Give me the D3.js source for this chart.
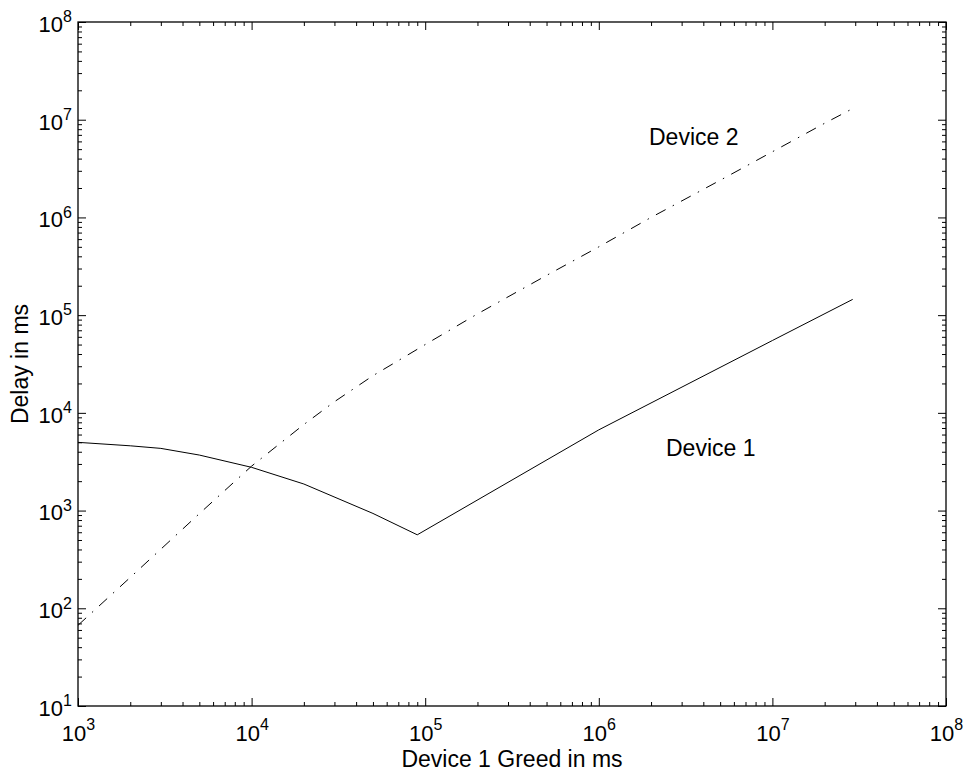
<!DOCTYPE html>
<html><head><meta charset="utf-8">
<script src="https://cdn.jsdelivr.net/npm/d3@7"></script>
<style>body{margin:0;background:#fff}text{font-family:"Liberation Sans",Arial,Helvetica,sans-serif;fill:#000}</style>
</head><body><svg id="c" width="964" height="776"></svg>
<script>
// Data
const device1X = [1e3, 2e3, 3e3, 5e3, 1e4, 2e4, 5e4, 9e4, 1e6, 1e7, 2.9e7];
const device1Y = [4990, 4600, 4330, 3700, 2770, 1870, 935, 565, 6700, 5.5e4, 1.45e5];
const device2X = [1e3, 2e3, 5e3, 1e4, 2e4, 3e4, 5e4, 1e5, 2e5, 5e5, 1e6, 2e6, 5e6, 1e7, 2e7, 2.9e7];
const device2Y = [67, 207, 930, 2850, 7600, 1.3e4, 2.4e4, 5.0e4, 1.03e5, 2.55e5, 5.0e5, 1.0e6, 2.4e6, 4.7e6, 9.2e6, 1.3e7];
const xMajor = [1e3, 1e4, 1e5, 1e6, 1e7, 1e8];
const yMajor = [1e1, 1e2, 1e3, 1e4, 1e5, 1e6, 1e7, 1e8];
const xExp = [3, 4, 5, 6, 7, 8];
const yExp = [1, 2, 3, 4, 5, 6, 7, 8];
const minorMult = [2, 3, 4, 5, 6, 7, 8, 9];
const xLabel = "Device 1 Greed in ms";
const yLabel = "Delay in ms";
const seriesLabels = ["Device 1", "Device 2"];

const L = 78, R = 946, T = 22, B = 706;
const svg = d3.select("#c");
const x = d3.scaleLog().domain([1e3, 1e8]).range([L, R]);
const y = d3.scaleLog().domain([1e1, 1e8]).range([B, T]);

const xMinor = [];
xMajor.slice(0, -1).forEach(d => minorMult.forEach(m => xMinor.push(d * m)));
const yMinor = [];
yMajor.slice(0, -1).forEach(d => minorMult.forEach(m => yMinor.push(d * m)));

function styleAxis(g) {
  g.select(".domain").remove();
  g.selectAll("line").attr("stroke", "#000").attr("stroke-width", 1);
}
// bottom
svg.append("g").attr("transform", `translate(0,${B})`)
  .call(d3.axisBottom(x).tickValues(xMinor).tickSize(-4).tickSizeOuter(0).tickFormat("")).call(styleAxis);
const xb = svg.append("g").attr("transform", `translate(0,${B})`)
  .call(d3.axisBottom(x).tickValues(xMajor).tickSize(-8).tickSizeOuter(0).tickFormat("")).call(styleAxis);
// top
svg.append("g").attr("transform", `translate(0,${T})`)
  .call(d3.axisTop(x).tickValues(xMinor).tickSize(-4).tickSizeOuter(0).tickFormat("")).call(styleAxis);
svg.append("g").attr("transform", `translate(0,${T})`)
  .call(d3.axisTop(x).tickValues(xMajor).tickSize(-8).tickSizeOuter(0).tickFormat("")).call(styleAxis);
// left
svg.append("g").attr("transform", `translate(${L},0)`)
  .call(d3.axisLeft(y).tickValues(yMinor).tickSize(-4).tickSizeOuter(0).tickFormat("")).call(styleAxis);
const yl = svg.append("g").attr("transform", `translate(${L},0)`)
  .call(d3.axisLeft(y).tickValues(yMajor).tickSize(-8).tickSizeOuter(0).tickFormat("")).call(styleAxis);
// right
svg.append("g").attr("transform", `translate(${R},0)`)
  .call(d3.axisRight(y).tickValues(yMinor).tickSize(-4).tickSizeOuter(0).tickFormat("")).call(styleAxis);
svg.append("g").attr("transform", `translate(${R},0)`)
  .call(d3.axisRight(y).tickValues(yMajor).tickSize(-8).tickSizeOuter(0).tickFormat("")).call(styleAxis);

// frame
svg.append("rect").attr("x", x(1e3)).attr("y", y(1e8))
  .attr("width", x(1e8) - x(1e3)).attr("height", y(1e1) - y(1e8))
  .attr("fill", "none").attr("stroke", "#000").attr("stroke-width", 1.3);

// tick labels
xb.selectAll(".tick").each(function (d, i) {
  const t = d3.select(this).append("text").attr("y", 34.5).attr("text-anchor", "middle")
    .attr("font-size", 22);
  t.append("tspan").text("10");
  t.append("tspan").attr("font-size", 16).attr("dy", -10.5).text(xExp[i]);
});
yl.selectAll(".tick").each(function (d, i) {
  const t = d3.select(this).append("text").attr("x", -6).attr("y", 9.3).attr("text-anchor", "end")
    .attr("font-size", 22);
  t.append("tspan").text("10");
  t.append("tspan").attr("font-size", 16).attr("dy", -9.5).text(yExp[i]);
});

// axis labels
svg.append("text").attr("x", (L + R) / 2).attr("y", 767).attr("text-anchor", "middle")
  .attr("font-size", 23).text(xLabel);
svg.append("text").attr("transform", `translate(28,${(T + B) / 2}) rotate(-90)`)
  .attr("text-anchor", "middle").attr("font-size", 23).text(yLabel);

// series
const line = d3.line().x(d => x(d[0])).y(d => y(d[1]));
svg.append("path").datum(device1X.map((v, i) => [v, device1Y[i]]))
  .attr("d", line).attr("fill", "none").attr("stroke", "#000").attr("stroke-width", 1);
svg.append("path").datum(device2X.map((v, i) => [v, device2Y[i]]))
  .attr("d", line).attr("fill", "none").attr("stroke", "#000").attr("stroke-width", 1)
  .attr("stroke-dasharray", "11,8,1.5,8");

// series labels
svg.append("text").attr("x", 666).attr("y", 456).attr("font-size", 23).text(seriesLabels[0]);
svg.append("text").attr("x", 649).attr("y", 145).attr("font-size", 23).text(seriesLabels[1]);
</script></body></html>
